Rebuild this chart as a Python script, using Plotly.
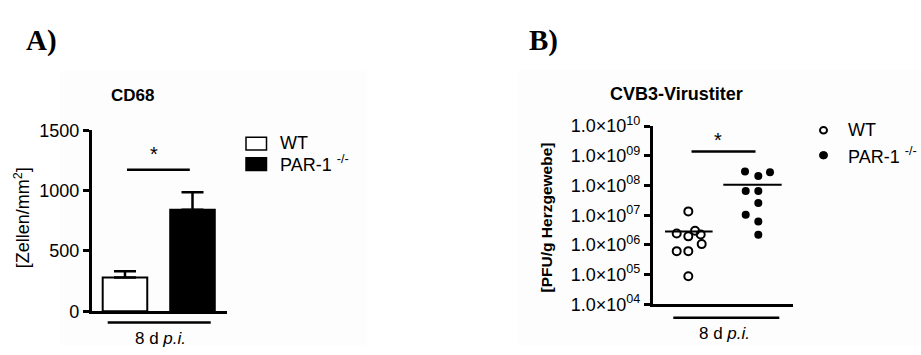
import numpy as np
import plotly.graph_objects as go

# ---------------- data ----------------
groups = ["WT", "PAR-1 -/-"]
cd68_mean = [280, 840]
cd68_err = [52, 145]
cd68_ticks = [0, 500, 1000, 1500]

titer_wt = [1.35e7, 2.45e6, 1.95e6, 3.0e6, 2.24e6, 1.07e6, 6.2e5, 6.2e5, 8.9e4]
titer_wt_offset = [0, -0.166, 0, 0.096, 0.177, 0.191, -0.166, 0, 0]
titer_par = [2.95e8, 2.1e8, 2.8e8, 6.6e7, 6.6e7, 2.6e7, 1.05e7, 6.2e6, 2.2e6]
titer_par_offset = [-0.19, 0, 0.167, -0.18, 0, 0, -0.18, 0, 0]
titer_tickvals = [1e4, 1e5, 1e6, 1e7, 1e8, 1e9, 1e10]
titer_ticktext = ["1.0×10<sup>04</sup>", "1.0×10<sup>05</sup>", "1.0×10<sup>06</sup>",
                  "1.0×10<sup>07</sup>", "1.0×10<sup>08</sup>", "1.0×10<sup>09</sup>",
                  "1.0×10<sup>10</sup>"]

W, H = 921, 355
FONT = "Liberation Sans, Arial, sans-serif"
SERIF = "Liberation Serif, Times New Roman, serif"


def px(x):
    return x / W


def py(y):
    return (H - y) / H


fig = go.Figure()

# ---------------- Panel A: bars ----------------
fig.add_trace(go.Bar(
    x=groups, y=cd68_mean, xaxis="x", yaxis="y",
    width=0.66,
    marker=dict(color=["white", "black"], line=dict(color="black", width=2)),
    error_y=dict(type="data", array=cd68_err, arrayminus=[0, 0], symmetric=False,
                 color="black", thickness=2.5, width=11),
    showlegend=False, hoverinfo="skip",
))

# ---------------- Panel B: scatter ----------------
wt_x = [0 + o for o in titer_wt_offset]
par_x = [1 + o for o in titer_par_offset]
fig.add_trace(go.Scatter(
    x=wt_x, y=titer_wt, xaxis="x2", yaxis="y2", mode="markers",
    marker=dict(symbol="circle-open", size=8, color="black", line=dict(width=2, color="black")),
    showlegend=False, hoverinfo="skip",
))
fig.add_trace(go.Scatter(
    x=par_x, y=titer_par, xaxis="x2", yaxis="y2", mode="markers",
    marker=dict(symbol="circle", size=8, color="black"),
    showlegend=False, hoverinfo="skip",
))
wt_mean = float(np.mean(titer_wt))
par_mean = float(np.mean(titer_par))
fig.add_trace(go.Scatter(
    x=[-0.333, 0.347], y=[wt_mean, wt_mean], xaxis="x2", yaxis="y2", mode="lines",
    line=dict(color="black", width=2), showlegend=False, hoverinfo="skip"))
fig.add_trace(go.Scatter(
    x=[0.5, 1.334], y=[par_mean, par_mean], xaxis="x2", yaxis="y2", mode="lines",
    line=dict(color="black", width=2), showlegend=False, hoverinfo="skip"))

axis_common = dict(showgrid=False, zeroline=False, linecolor="black", linewidth=2.5,
                   ticks="outside", tickcolor="black", tickwidth=2.5, ticklen=6)

fig.update_layout(
    width=W, height=H, margin=dict(l=0, r=0, t=0, b=0),
    paper_bgcolor="white", plot_bgcolor="rgba(0,0,0,0)",
    showlegend=False,
    xaxis=dict(domain=[px(91.7), px(227)], type="category", range=[-0.493, 1.511],
               showline=True, linecolor="black", linewidth=2.5, showticklabels=False,
               ticks="", showgrid=False, zeroline=False),
    yaxis=dict(domain=[py(319), py(126)], range=[0, 1500], tickvals=cd68_ticks,
               showline=True, anchor="x",
               tickfont=dict(family=FONT, size=18, color="black"), **axis_common),
    xaxis2=dict(domain=[px(652.7), px(793.3)], range=[-0.509, 1.5], anchor="y2",
                showline=True, linecolor="black", linewidth=2.5, showticklabels=False,
                ticks="", showgrid=False, zeroline=False),
    yaxis2=dict(domain=[py(311.7), py(121.7)], type="log", range=[4, 10], anchor="x2",
                tickmode="array", tickvals=titer_tickvals, ticktext=titer_ticktext,
                showline=True,
                tickfont=dict(family=FONT, size=18, color="black"), **axis_common),
)

shapes = []
# faint panel backgrounds
shapes.append(dict(type="rect", xref="paper", yref="paper", x0=px(60), x1=px(367), y0=0, y1=py(63),
                   fillcolor="#fdfdfd", line=dict(width=0), layer="below"))
shapes.append(dict(type="rect", xref="paper", yref="paper", x0=px(518), x1=1, y0=0, y1=py(62),
                   fillcolor="#fdfdfd", line=dict(width=0), layer="below"))
# significance lines
shapes.append(dict(type="line", xref="x", yref="y", x0=0.03, x1=0.96, y0=1172, y1=1172,
                   line=dict(color="black", width=2.5)))
shapes.append(dict(type="line", xref="x2", yref="y2", x0=0.046, x1=0.96, y0=1.4e9, y1=1.4e9,
                   line=dict(color="black", width=2.5)))
# group lines under axes
shapes.append(dict(type="line", xref="x", yref="paper", x0=-0.256, x1=1.27, y0=py(331), y1=py(331),
                   line=dict(color="black", width=2.5)))
shapes.append(dict(type="line", xref="x2", yref="paper", x0=-0.215, x1=1.3, y0=py(326), y1=py(326),
                   line=dict(color="black", width=2.5)))
# legend A boxes
shapes.append(dict(type="rect", xref="paper", yref="paper", x0=px(246), x1=px(266.5), y0=py(147), y1=py(133.5),
                   fillcolor="white", line=dict(color="black", width=1.5)))
shapes.append(dict(type="rect", xref="paper", yref="paper", x0=px(246), x1=px(266.5), y0=py(169), y1=py(155.5),
                   fillcolor="black", line=dict(color="black", width=1.5)))
# legend B markers
shapes.append(dict(type="circle", xref="paper", yref="paper", x0=px(820), x1=px(827), y0=py(129.5), y1=py(122.5),
                   fillcolor="white", line=dict(color="black", width=2)))
shapes.append(dict(type="circle", xref="paper", yref="paper", x0=px(819.5), x1=px(827.5), y0=py(156.7), y1=py(148.7),
                   fillcolor="black", line=dict(color="black", width=1)))
fig.update_layout(shapes=shapes)

ann = []


def text(x, y, s, size, xanchor="center", yanchor="middle", family=FONT, angle=0, xref="paper", yref="paper"):
    ann.append(dict(x=x, y=y, xref=xref, yref=yref, text=s, showarrow=False, xanchor=xanchor,
                    yanchor=yanchor, textangle=angle, font=dict(family=family, size=size, color="black")))


text(px(24), py(30), "<b>A)</b>", 29, xanchor="left", family=SERIF)
text(px(527), py(30), "<b>B)</b>", 29, xanchor="left", family=SERIF)
text(px(132), py(89), "<b>CD68</b>", 17)
text(px(676.7), py(87.3), "<b>CVB3-Virustiter</b>", 18)
text(px(22), py(220), "[Zellen/mm<sup>2</sup>]", 18, angle=-90)
text(px(546), py(219), "<b>[PFU/g Herzgewebe]</b>", 15.5, angle=-90)
text(0.43, 1300, "*", 20, xref="x", yref="y")
text(0.42, py(136), "*", 20, xref="x2")
text(0.519, py(348), "8 d <i>p.i.</i>", 17, xref="x")
text(0.524, py(343), "8 d <i>p.i.</i>", 17, xref="x2")
text(px(278), py(140), "WT", 18, xanchor="left")
text(px(278), py(162), "PAR-1 <sup>-/-</sup>", 18, xanchor="left")
text(px(846), py(126), "WT", 18, xanchor="left")
text(px(846), py(153), "PAR-1 <sup>-/-</sup>", 18, xanchor="left")
fig.update_layout(annotations=ann)

fig.write_html("out.html", config={"displayModeBar": False},
               post_script="document.body.style.margin='0';document.body.style.overflow='hidden';")
